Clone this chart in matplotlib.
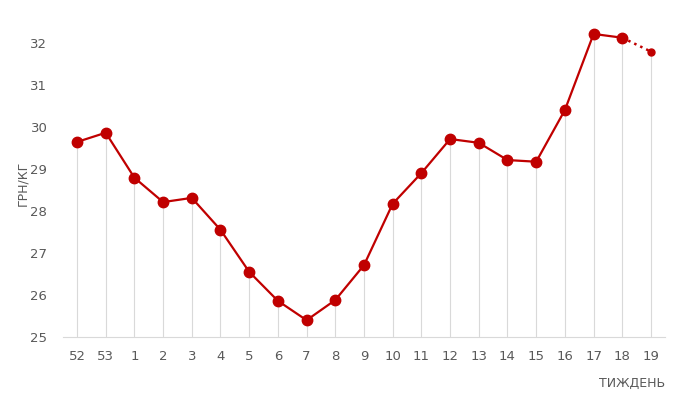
import numpy as np
import matplotlib.pyplot as plt

# Weekly price, UAH/kg
weeks = ['52', '53', '1', '2', '3', '4', '5', '6', '7', '8', '9', '10',
         '11', '12', '13', '14', '15', '16', '17', '18', '19']
prices = [29.64, 29.86, 28.79, 28.21, 28.31, 27.55, 26.55, 25.86, 25.40, 25.88,
          26.71, 28.17, 28.90, 29.71, 29.62, 29.21, 29.17, 30.40, 32.21, 32.12, 31.79]

red = '#C00000'
grey = '#595959'
x = np.arange(len(weeks))

fig = plt.figure(figsize=(6.81, 4.12), dpi=100)
ax = fig.add_axes([0.092, 0.182, 0.885, 0.755])

ymin = 25
# drop lines from the axis to each point
ax.vlines(x, ymin, prices, color='#D9D9D9', linewidth=0.8, zorder=1)

ax.plot(x[:-1], prices[:-1], color=red, linewidth=1.6, marker='o',
        markersize=7.5, zorder=3)
ax.plot(x[-2:], prices[-2:], color=red, linewidth=1.8, linestyle=':', zorder=3)
ax.plot(x[-1], prices[-1], color=red, marker='o', markersize=5, zorder=3)

ax.set_xlim(-0.5, len(weeks) - 0.5)
ax.set_ylim(ymin, 32.4)
ax.set_xticks(x)
ax.set_xticklabels(weeks)
ax.set_yticks(range(25, 33))

for s in ['top', 'right', 'left']:
    ax.spines[s].set_visible(False)
ax.spines['bottom'].set_color('#D9D9D9')
ax.tick_params(axis='both', length=0, labelsize=9.5, colors=grey)
ax.tick_params(axis='x', pad=9)
ax.tick_params(axis='y', pad=11)

fig.text(0.033, 0.555, 'ГРН/КГ', rotation=90, ha='center', va='center',
         fontsize=9, color=grey)
fig.text(0.977, 0.07, 'ТИЖДЕНЬ', ha='right', va='center', fontsize=9, color=grey)

plt.savefig('out.png', dpi=100)
